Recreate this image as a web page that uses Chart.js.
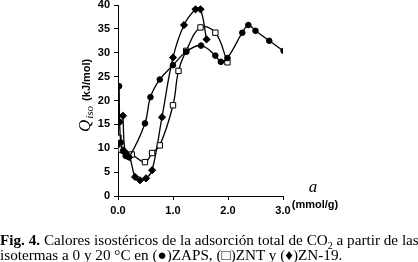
<!DOCTYPE html>
<html>
<head>
<meta charset="utf-8">
<script src="https://cdn.jsdelivr.net/npm/chart.js@4"></script>
<style>
  body { margin: 0; background: #fff; }
  #wrap { position: relative; width: 418px; height: 262px; }
  #chart { position: absolute; left: 0; top: 0; }
  #caption {
    position: absolute; left: 0; top: 232px; width: 418px;
    font-family: "Liberation Serif", "Times New Roman", serif;
    font-size: 15.2px; line-height: 15px; color: #000; white-space: nowrap;
  }
  #caption sub { font-size: 10px; line-height: 0; }
</style>
</head>
<body>
<div id="wrap">
  <canvas id="chart" width="418" height="262"></canvas>
  <div id="caption"><b>Fig. 4.</b> Calores isostéricos de la adsorción total de CO<sub>2</sub> a partir de las<br>isotermas a 0 y 20 °C en (●)ZAPS, (□)ZNT y (♦)ZN-19.</div>
</div>
<script>
// a (mmol/g) vs Qiso (kJ/mol)
const zapsA = [0.02, 0.03, 0.05, 0.09, 0.14, 0.2, 0.49, 0.59, 0.76, 1.0, 1.24, 1.51, 1.77, 1.87, 1.99, 2.26, 2.37, 2.5, 2.75, 3.01];
const zapsQ = [23.0, 15.5, 11.2, 9.4, 8.4, 8.1, 15.2, 20.7, 24.4, 27.4, 30.2, 31.5, 29.4, 28.1, 28.9, 34.2, 35.8, 34.6, 32.5, 30.4];

const zntA = [0.01, 0.05, 0.25, 0.49, 0.62, 0.76, 1.0, 1.1, 1.24, 1.5, 1.77, 1.99];
const zntQ = [12.2, 9.7, 8.7, 7.1, 9.0, 10.6, 19.0, 26.2, 30.4, 35.3, 34.2, 28.0];

const zn19A = [0.09, 0.13, 0.21, 0.31, 0.4, 0.51, 0.62, 0.8, 1.0, 1.2, 1.41, 1.5, 1.61];
const zn19Q = [16.8, 9.2, 8.2, 4.0, 3.3, 3.7, 5.4, 16.5, 29.0, 35.8, 39.1, 39.1, 32.8];

const xTicks = [0, 1, 2, 3];
const yTicks = [0, 5, 10, 15, 20, 25, 30, 35, 40];

function pts(xs, ys) {
  return xs.map((x, i) => ({ x: x, y: ys[i] }));
}

const tickFont = { family: "Liberation Sans, Arial, sans-serif", size: 11, weight: "bold" };

const titles = {
  id: "titles",
  afterDraw(chart) {
    const ctx = chart.ctx;
    ctx.save();
    ctx.fillStyle = "#000";
    ctx.textBaseline = "alphabetic";
    // y title, rotated
    ctx.translate(90, 132);
    ctx.rotate(-Math.PI / 2);
    let x = 0;
    ctx.font = "italic 17px 'Liberation Serif', serif";
    ctx.fillText("Q", x, 0);
    x += ctx.measureText("Q").width + 1;
    ctx.font = "italic 11px 'Liberation Serif', serif";
    ctx.fillText("iso", x, 3);
    x += ctx.measureText("iso").width + 5;
    ctx.font = "bold 11px 'Liberation Sans', Arial, sans-serif";
    ctx.fillText("(kJ/mol)", x, 0);
    ctx.restore();

    ctx.save();
    ctx.fillStyle = "#000";
    ctx.textAlign = "center";
    ctx.font = "italic 17px 'Liberation Serif', serif";
    ctx.fillText("a", 313, 192);
    ctx.font = "bold 11px 'Liberation Sans', Arial, sans-serif";
    ctx.fillText("(mmol/g)", 315, 208);
    ctx.restore();
  }
};

const common = {
  showLine: true,
  borderColor: "#000",
  borderWidth: 1.3,
  tension: 0.4,
  pointBorderColor: "#000",
  pointBorderWidth: 1
};

new Chart(document.getElementById("chart"), {
  type: "scatter",
  data: {
    datasets: [
      Object.assign({}, common, {
        label: "ZAPS", data: pts(zapsA, zapsQ),
        pointStyle: "circle", pointRadius: 2.8, pointBackgroundColor: "#000"
      }),
      Object.assign({}, common, {
        label: "ZNT", data: pts(zntA, zntQ),
        pointStyle: "rect", pointRadius: 3.8, pointBackgroundColor: "#fff"
      }),
      Object.assign({}, common, {
        label: "ZN-19", data: pts(zn19A, zn19Q),
        pointStyle: "rectRot", pointRadius: 3.6, pointBackgroundColor: "#000"
      })
    ]
  },
  options: {
    responsive: false,
    animation: false,
    layout: { padding: { left: 0, top: 4, right: 135, bottom: 44 } },
    plugins: { legend: { display: false }, tooltip: { enabled: false } },
    scales: {
      x: {
        type: "linear", min: 0, max: 3,
        afterBuildTicks: (s) => { s.ticks = xTicks.map(v => ({ value: v })); },
        afterFit: (s) => { s.height = 22; s.paddingLeft = 0; s.paddingRight = 0; },
        border: { color: "#000", width: 1 },
        grid: { drawOnChartArea: false, color: "#000", tickLength: 4 },
        ticks: { color: "#000", font: tickFont, padding: 4, callback: (v) => v.toFixed(1) }
      },
      y: {
        type: "linear", min: 0, max: 40,
        afterBuildTicks: (s) => { s.ticks = yTicks.map(v => ({ value: v })); },
        afterFit: (s) => { s.width = 118; s.paddingTop = 0; s.paddingBottom = 0; },
        border: { color: "#000", width: 1 },
        grid: { drawOnChartArea: false, color: "#000", tickLength: 4 },
        ticks: { color: "#000", font: tickFont, padding: 4 }
      }
    }
  },
  plugins: [titles]
});
</script>
</body>
</html>
